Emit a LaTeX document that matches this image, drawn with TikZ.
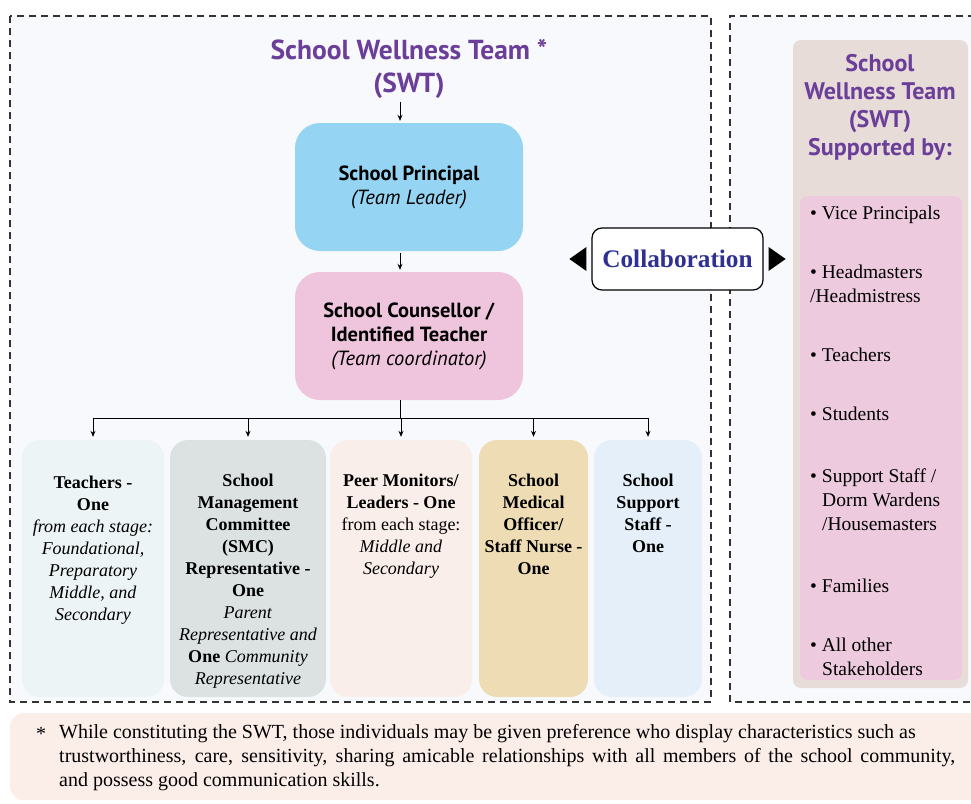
\documentclass[tikz,border=0pt]{standalone}
\usepackage{fontspec}
\setmainfont{Liberation Serif}
\newfontfamily\hsans{PT Sans}
\usetikzlibrary{arrows.meta}
\definecolor{ttl}{HTML}{6A3E99}
\definecolor{navy}{HTML}{2E3192}
\definecolor{bgpanel}{HTML}{F8F9FC}
\definecolor{princ}{HTML}{95D5F3}
\definecolor{couns}{HTML}{EEC5DD}
\definecolor{mA}{HTML}{EDF4F5}
\definecolor{mB}{HTML}{DCE2E2}
\definecolor{mC}{HTML}{FAEEEA}
\definecolor{mD}{HTML}{EEDCB4}
\definecolor{mE}{HTML}{E4EFF9}
\definecolor{rpan}{HTML}{E7DCD8}
\definecolor{rinn}{HTML}{EDCADD}
\definecolor{foot}{HTML}{FBEDE8}
\tikzset{
  dashframe/.style={draw=black!80, dash pattern=on 7pt off 5pt, line width=1.3pt},
  conn/.style={draw=black, line width=0.8pt, -{Stealth[length=6pt,width=5pt]}},
  plainline/.style={draw=black, line width=0.8pt},
  topbox/.style={rounded corners=25pt, minimum width=228pt, minimum height=128pt, inner sep=0pt, align=center, font=\hsans\fontsize{20.5}{24}\selectfont},
  memberbox/.style={rounded corners=18pt, minimum height=257pt, inner sep=0pt},
  membertext/.style={anchor=north, align=center, font=\fontsize{18}{22}\selectfont, inner sep=0pt},
  listitem/.style={anchor=base west, font=\fontsize{19.5}{24}\selectfont, inner sep=0pt},
  foottext/.style={anchor=base west, font=\fontsize{20}{24}\selectfont, inner sep=0pt},
}
\begin{document}
\begin{tikzpicture}[x=1pt,y=-1pt]
\useasboundingbox (0,0) rectangle (971,803);
\fill[white] (0,0) rectangle (971,803);
% frames
\fill[bgpanel] (10,16) rectangle (711,702);
\draw[dashframe] (10,16) rectangle (711,702);
\fill[bgpanel] (730,16) rectangle (975,702);
\draw[dashframe] (975,16) -- (730,16) -- (730,702) -- (975,702);
% title
\node[font=\hsans\bfseries\fontsize{27.5}{33}\selectfont, text=ttl, align=center, inner sep=0pt] (title) at (409,69) {School Wellness Team *\\(SWT)};
\coordinate (spine) at (400,0);
% top boxes
\node[topbox, fill=princ] (principal) at (409,187) {\textbf{School Principal}\\\textit{(Team Leader)}};
\node[topbox, fill=couns] (counsellor) at (409,336) {\textbf{School Counsellor /}\\\textbf{Identified Teacher}\\\textit{(Team coordinator)}};
\draw[conn] ([yshift=-3pt]title.south -| spine) -- ([yshift=2pt]principal.north -| spine);
\draw[conn] ([yshift=-2pt]principal.south -| spine) -- ([yshift=2pt]counsellor.north -| spine);
% member boxes
\node[memberbox, fill=mA, minimum width=142pt] (m1) at (93,568.5) {};
\node[memberbox, fill=mB, minimum width=156pt] (m2) at (248,568.5) {};
\node[memberbox, fill=mC, minimum width=142pt] (m3) at (401,568.5) {};
\node[memberbox, fill=mD, minimum width=109pt] (m4) at (533.5,568.5) {};
\node[memberbox, fill=mE, minimum width=108pt] (m5) at (648,568.5) {};
\node[membertext] (t1) at ([yshift=-36pt]m1.north) {\textbf{Teachers -}\\\textbf{One}\\\textit{from each stage:}\\\textit{Foundational,}\\\textit{Preparatory}\\\textit{Middle, and}\\\textit{Secondary}};
\node[membertext] (t2) at ([yshift=-34pt]m2.north) {\textbf{School}\\\textbf{Management}\\\textbf{Committee}\\\textbf{(SMC)}\\\textbf{Representative -}\\\textbf{One}\\\textit{Parent}\\\textit{Representative and}\\\textbf{One} \textit{Community}\\\textit{Representative}};
\node[membertext] (t3) at ([yshift=-34pt]m3.north) {\textbf{Peer Monitors/}\\\textbf{Leaders - One}\\from each stage:\\\textit{Middle and}\\\textit{Secondary}};
\node[membertext] (t4) at ([yshift=-34pt]m4.north) {\textbf{School}\\\textbf{Medical}\\\textbf{Officer/}\\\textbf{Staff Nurse -}\\\textbf{One}};
\node[membertext] (t5) at ([yshift=-34pt]m5.north) {\textbf{School}\\\textbf{Support}\\\textbf{Staff -}\\\textbf{One}};
% tree connectors
\coordinate (bus) at (400,418);
\draw[plainline] (counsellor.south -| spine) -- (bus);
\draw[plainline] (m1.north |- bus) -- (m5.north |- bus);
\foreach \m in {m1,m2,m3,m4,m5}{
  \draw[conn] (\m.north |- bus) -- ([yshift=3pt]\m.north);
}
% collaboration
\node[draw=black, line width=1.2pt, fill=white, rounded corners=10pt, minimum width=171pt, minimum height=62pt, inner sep=0pt, font=\bfseries\fontsize{25.3}{30}\selectfont, text=navy] (collab) at (677.5,259) {Collaboration};
\fill[black] ([xshift=-22pt]collab.west) -- ++(17,-12) -- ++(0,24) -- cycle;
\fill[black] ([xshift=22pt]collab.east) -- ++(-17,-12) -- ++(0,24) -- cycle;
% right panel
\node[fill=rpan, rounded corners=8pt, minimum width=175pt, minimum height=648pt, inner sep=0pt] (rpanel) at (880.5,364) {};
\node[fill=rinn, rounded corners=8pt, minimum width=162pt, minimum height=484pt, inner sep=0pt] (rlist) at (881,438) {};
\node[font=\hsans\bfseries\fontsize{24}{28}\selectfont, text=ttl, align=center, inner sep=0pt] (rtitle) at (880,107) {School\\Wellness Team\\(SWT)\\Supported by:};
\node[listitem] (l1) at (810,219) {• Vice Principals};
\node[listitem] (l2) at (810,278) {• Headmasters};
\node[listitem] (l2b) at (810,302) {/Headmistress};
\node[listitem] (l3) at (810,361) {• Teachers};
\node[listitem] (l4) at (810,420) {• Students};
\node[listitem] (l5) at (810,482) {• Support Staff /};
\node[listitem] (l5b) at (822,506) {Dorm Wardens};
\node[listitem] (l5c) at (822,530) {/Housemasters};
\node[listitem] (l6) at (810,592) {• Families};
\node[listitem] (l7) at (810,651) {• All other};
\node[listitem] (l7b) at (822,675) {Stakeholders};
% footnote
\node[fill=foot, rounded corners=14pt, minimum width=980pt, minimum height=87pt, inner sep=0pt] (fbox) at (500,756.5) {};
\node[foottext] (fstar) at (36,740) {*};
\node[foottext] (f1) at (59,738) {While constituting the SWT, those individuals may be given preference who display characteristics such as};
\node[foottext] (f2) at (59,762) {\makebox[896pt][s]{trustworthiness, care, sensitivity, sharing amicable relationships with all members of the school community,}};
\node[foottext] (f3) at (59,786) {and possess good communication skills.};
\end{tikzpicture}
\end{document}
